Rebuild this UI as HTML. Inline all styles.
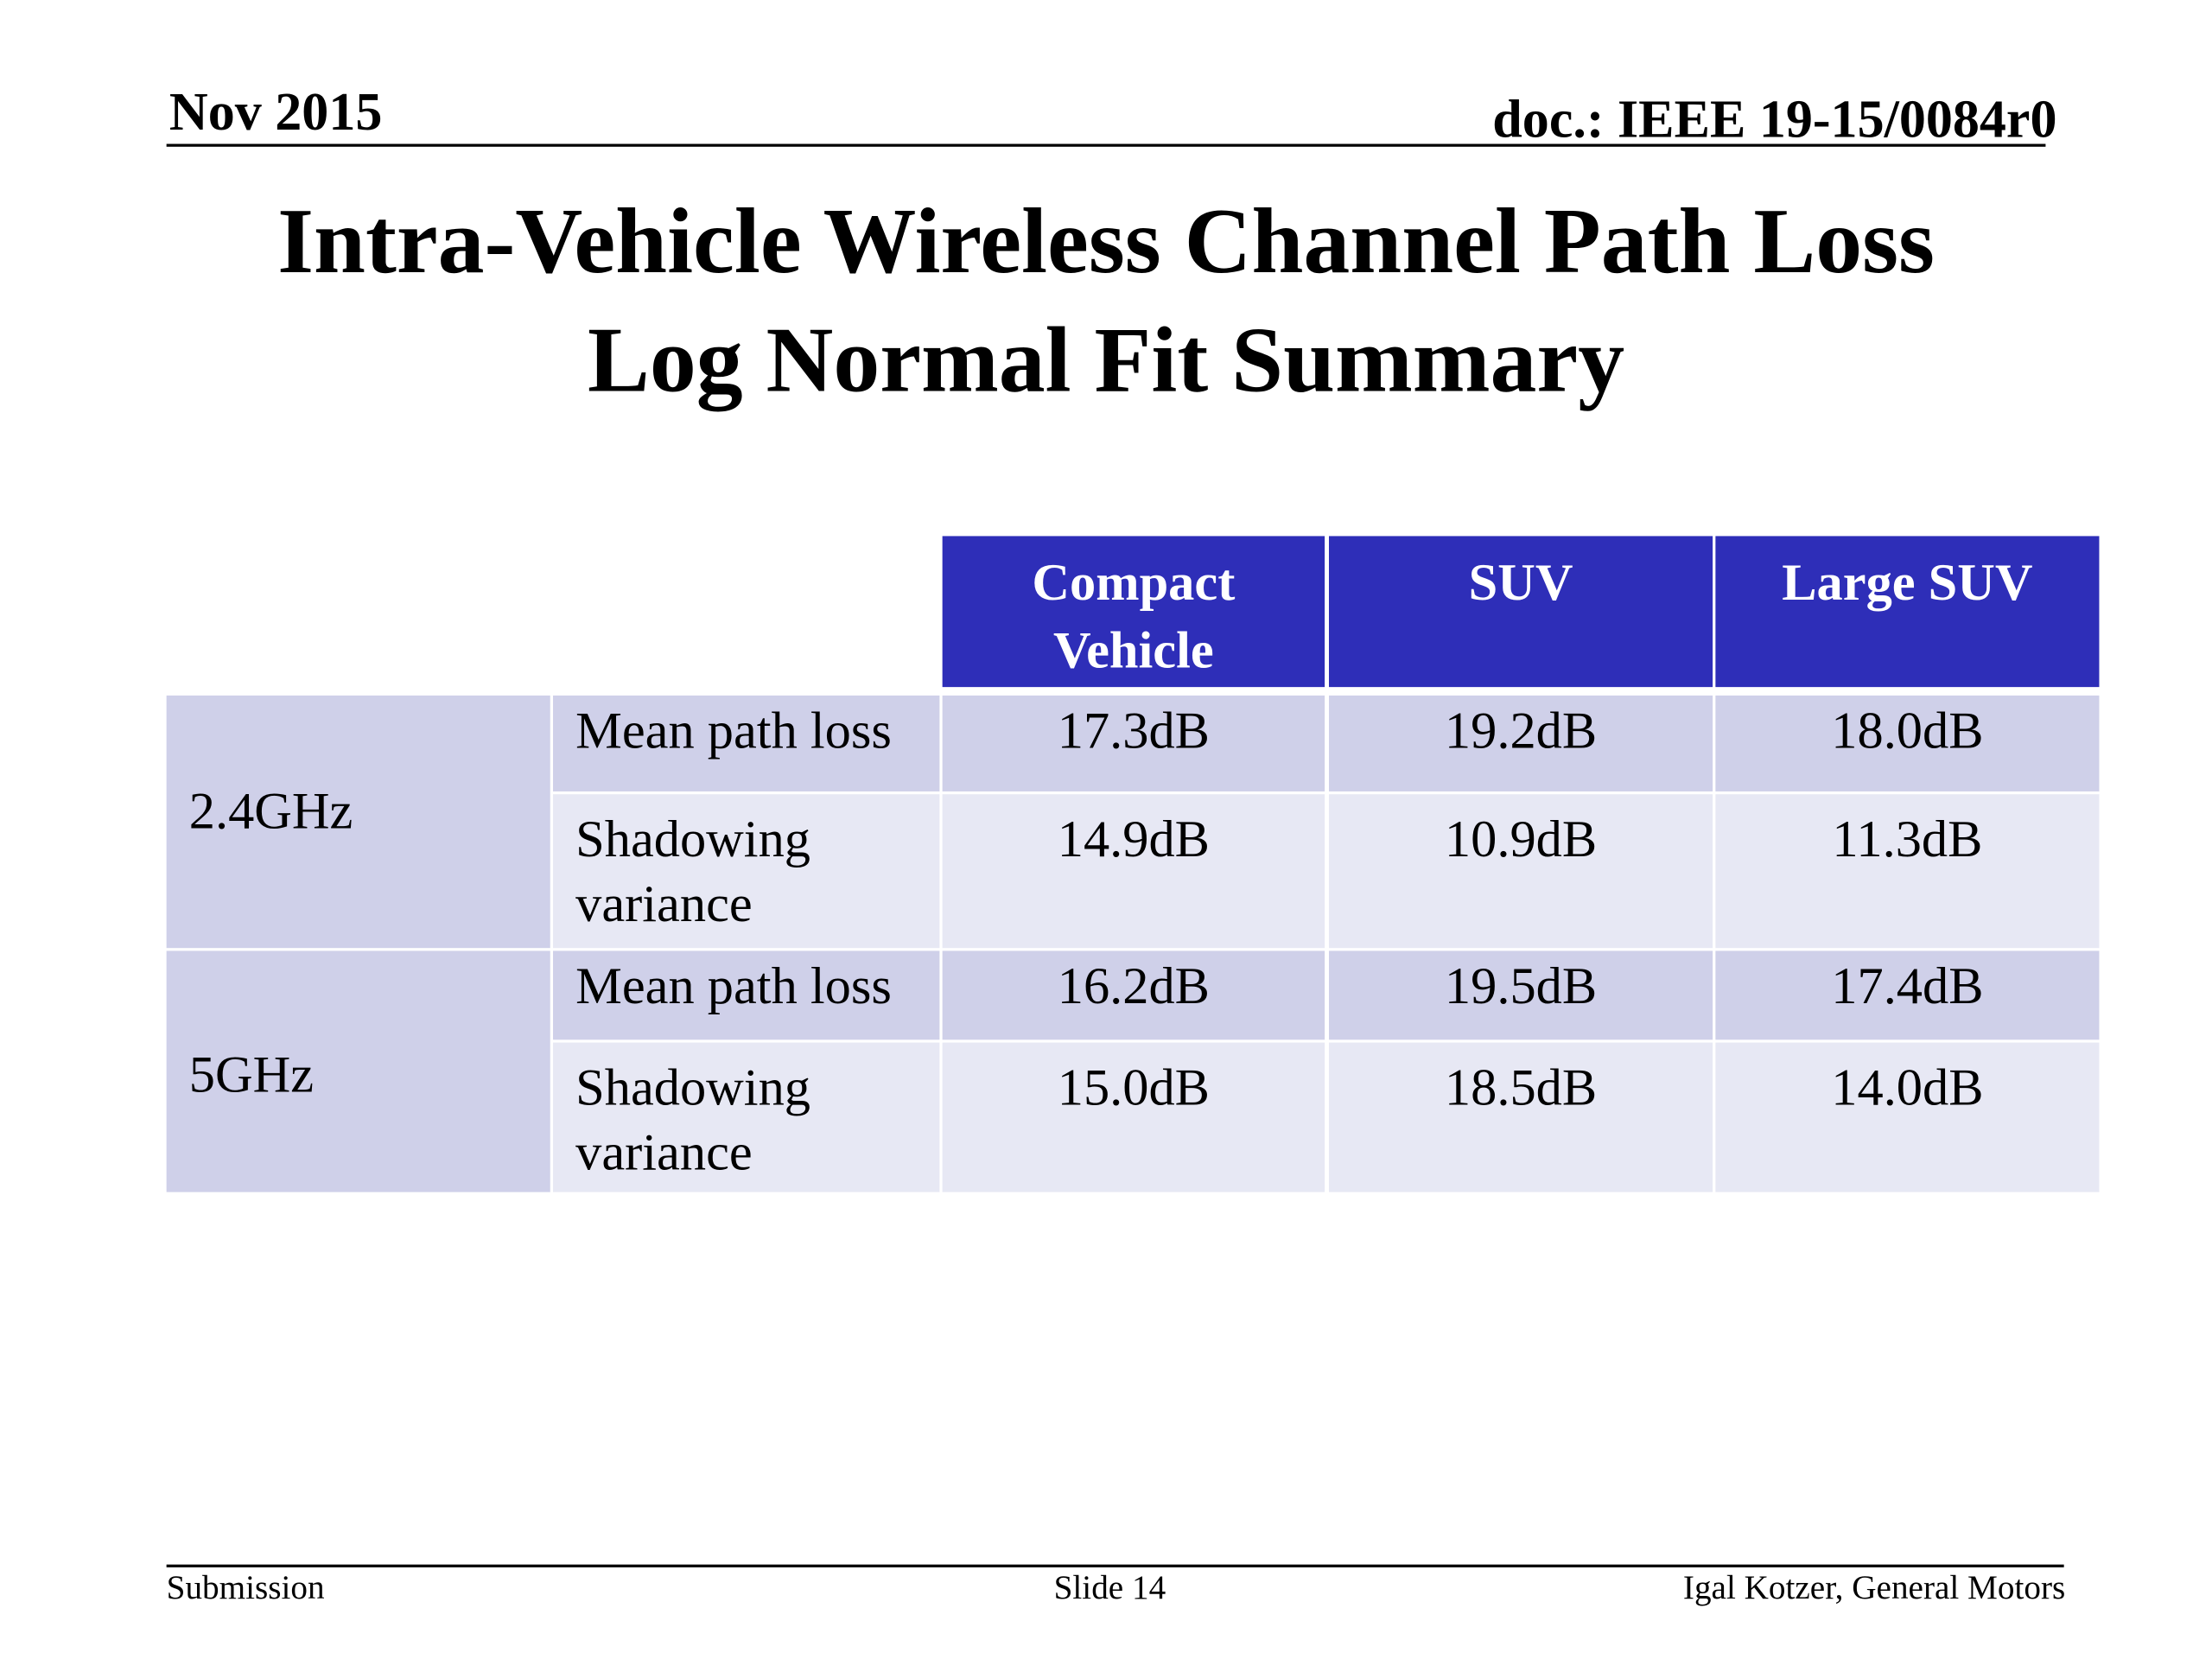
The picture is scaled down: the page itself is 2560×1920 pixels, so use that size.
<!DOCTYPE html>
<html><head><meta charset="utf-8"><style>
html,body{margin:0;padding:0;background:#fff;}
body{width:2560px;height:1920px;overflow:hidden;position:relative;}
#s{position:absolute;left:0;top:0;width:1568px;height:1176px;transform:scale(1.6327);transform-origin:0 0;font-family:"Liberation Serif",serif;color:#000;}
.a{position:absolute;white-space:nowrap;}
.c{position:absolute;box-sizing:border-box;font-size:37px;line-height:46px;}
.h{background:#2e2eb8;color:#fff;font-weight:bold;text-align:center;padding-top:10px;line-height:48px;}
.d{background:#cfd0e9;}
.l{background:#e7e8f4;}
.v{text-align:center;padding-top:3px;}
.t{padding-left:16px;padding-top:3px;}
</style></head><body>
<div id="s">
<div class="a" style="left:120px;top:58px;font-size:38px;font-weight:bold;">Nov 2015</div>
<div class="a" style="right:110px;top:63px;font-size:38px;font-weight:bold;">doc.: IEEE 19-15/0084r0</div>
<div class="a" style="left:118px;top:102px;width:1332px;height:2px;background:#000;"></div>
<div class="a" style="left:0;width:1568px;top:130px;text-align:center;font-size:66px;font-weight:bold;line-height:84px;">Intra-Vehicle Wireless Channel Path Loss<br>Log Normal Fit Summary</div>

<div>
<div class="c h" style="left:668px;top:380px;width:271px;height:107px;">Compact<br>Vehicle</div>
<div class="c h" style="left:942px;top:380px;width:272px;height:107px;">SUV</div>
<div class="c h" style="left:1216px;top:380px;width:272px;height:107px;">Large SUV</div>

<div class="c d t" style="left:118px;top:493px;width:272px;height:179px;padding-top:60px;">2.4GHz</div>
<div class="c d t" style="left:118px;top:674px;width:272px;height:171px;padding-top:66px;">5GHz</div>

<div class="c d t" style="left:392px;top:493px;width:274px;height:68px;">Mean path loss</div>
<div class="c l t" style="left:392px;top:563px;width:274px;height:109px;padding-top:10px;">Shadowing<br>variance</div>
<div class="c d t" style="left:392px;top:674px;width:274px;height:63px;">Mean path loss</div>
<div class="c l t" style="left:392px;top:739px;width:274px;height:106px;padding-top:10px;">Shadowing<br>variance</div>

<div class="c d v" style="left:668px;top:493px;width:271px;height:68px;">17.3dB</div>
<div class="c d v" style="left:942px;top:493px;width:272px;height:68px;">19.2dB</div>
<div class="c d v" style="left:1216px;top:493px;width:272px;height:68px;">18.0dB</div>
<div class="c l v" style="left:668px;top:563px;width:271px;height:109px;padding-top:10px;">14.9dB</div>
<div class="c l v" style="left:942px;top:563px;width:272px;height:109px;padding-top:10px;">10.9dB</div>
<div class="c l v" style="left:1216px;top:563px;width:272px;height:109px;padding-top:10px;">11.3dB</div>
<div class="c d v" style="left:668px;top:674px;width:271px;height:63px;">16.2dB</div>
<div class="c d v" style="left:942px;top:674px;width:272px;height:63px;">19.5dB</div>
<div class="c d v" style="left:1216px;top:674px;width:272px;height:63px;">17.4dB</div>
<div class="c l v" style="left:668px;top:739px;width:271px;height:106px;padding-top:10px;">15.0dB</div>
<div class="c l v" style="left:942px;top:739px;width:272px;height:106px;padding-top:10px;">18.5dB</div>
<div class="c l v" style="left:1216px;top:739px;width:272px;height:106px;padding-top:10px;">14.0dB</div>
</div>

<div class="a" style="left:118px;top:1109px;width:1345px;height:2px;background:#000;"></div>
<div class="a" style="left:118px;top:1113px;font-size:24px;">Submission</div>
<div class="a" style="left:747px;top:1113px;font-size:24px;">Slide 14</div>
<div class="a" style="right:104px;top:1113px;font-size:24px;">Igal Kotzer, General Motors</div>
</div>
</body></html>
